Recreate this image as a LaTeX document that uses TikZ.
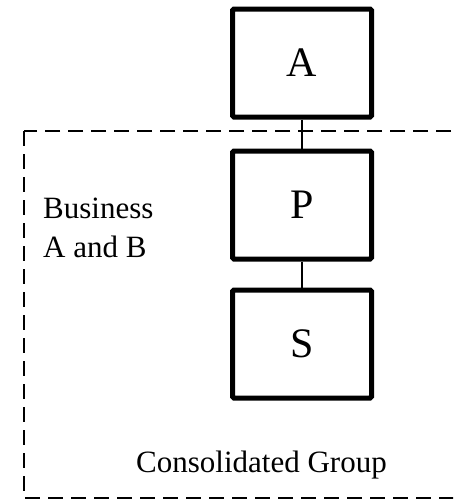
\documentclass[tikz,border=0pt]{standalone}
\usepackage{fontspec}
\setmainfont{Liberation Serif}
\usetikzlibrary{positioning}

\begin{document}
\begin{tikzpicture}[
    x=1pt, y=-1pt,
    entity/.style={
      rectangle, rounded corners=1.5pt, draw, line width=5pt,
      minimum width=139pt, minimum height=108pt,
      font=\fontsize{42}{48}\selectfont, inner sep=0pt
    },
    link/.style={line width=1.5pt},
    group/.style={dashed, dash pattern=on 15pt off 8pt, line width=1.5pt},
    label/.style={font=\fontsize{31}{39}\selectfont, inner sep=0pt},
  ]
  \useasboundingbox (0,0) rectangle (453,501);
  \clip (0,0) rectangle (453,501);

  % Entities
  \node[entity] (A) at (302,63) {A};
  \node[entity, below=29pt of A] (P) {P};
  \node[entity, below=26pt of P] (S) {S};

  % Links
  \draw[link] (A) -- (P);
  \draw[link] (P) -- (S);

  % Consolidated group boundary
  \draw[group] (24,131) rectangle (480,498);

  % Labels
  \node[label, align=left, anchor=base west] (biz) at (43,257) {Business\\A and B};
  \node[label, anchor=base] (cons) at (261.5,472) {Consolidated Group};

\end{tikzpicture}
\end{document}
